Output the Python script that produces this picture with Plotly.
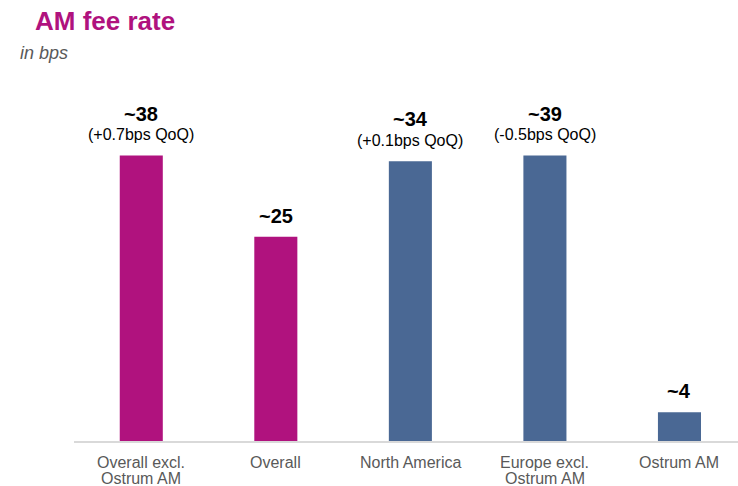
import plotly.graph_objects as go

categories = ["Overall excl.<br>Ostrum AM", "Overall", "North America", "Europe excl.<br>Ostrum AM", "Ostrum AM"]
bar_heights = [39.8, 28.5, 39.0, 39.8, 4.0]
value_labels = ["~38", "~25", "~34", "~39", "~4"]
qoq_labels = ["(+0.7bps QoQ)", "", "(+0.1bps QoQ)", "(-0.5bps QoQ)", ""]
colors = ["#B0127E", "#B0127E", "#4A6894", "#4A6894", "#4A6894"]

FONT = "Liberation Sans, Arial"

fig = go.Figure()
fig.add_trace(go.Bar(
    x=list(range(len(categories))), y=bar_heights,
    marker=dict(color=colors, line=dict(width=0)),
    width=0.32, hoverinfo="skip",
))

for i, (h, v, q) in enumerate(zip(bar_heights, value_labels, qoq_labels)):
    fig.add_annotation(x=i, y=h, text="<b>" + v + "</b>", showarrow=False,
                       yanchor="middle", xanchor="center",
                       yshift=42 if q else 21,
                       font=dict(family=FONT, size=20, color="#000000"))
    if q:
        fig.add_annotation(x=i, y=h, text=q, showarrow=False,
                           yanchor="middle", xanchor="center", yshift=21,
                           font=dict(family=FONT, size=16, color="#000000"))

# category labels (one annotation per line for tighter line spacing)
for i, cat in enumerate(categories):
    for j, line in enumerate(cat.split("<br>")):
        fig.add_annotation(x=i, xref="x", y=0, yref="paper", text=line, showarrow=False,
                           yanchor="middle", xanchor="center", yshift=-21 - 16 * j,
                           borderpad=0,
                           font=dict(family=FONT, size=16, color="#595959"))

fig.add_annotation(xref="paper", yref="paper", x=0, y=1, text="<b>AM fee rate</b>",
                   showarrow=False, xanchor="left", yanchor="middle",
                   xshift=33 - 74, yshift=-21,
                   font=dict(family=FONT, size=26, color="#B0127E"))
fig.add_annotation(xref="paper", yref="paper", x=0, y=1, text="<i>in bps</i>",
                   showarrow=False, xanchor="left", yanchor="middle",
                   xshift=18 - 74, yshift=-53,
                   font=dict(family=FONT, size=18, color="#595959"))

fig.update_layout(
    width=738, height=486,
    margin=dict(l=74, r=0, t=0, b=45),
    plot_bgcolor="white", paper_bgcolor="white",
    showlegend=False,
    xaxis=dict(range=[-0.5, 4.435], showticklabels=False, showgrid=False, zeroline=False,
               showline=True, linecolor="#D9D9D9", linewidth=2, ticks="", automargin=False),
    yaxis=dict(range=[0, 61.5], visible=False, showgrid=False, zeroline=False, automargin=False),
)

fig.write_html("out.html", config={"displayModeBar": False},
               post_script="document.body.style.margin='0px';")
